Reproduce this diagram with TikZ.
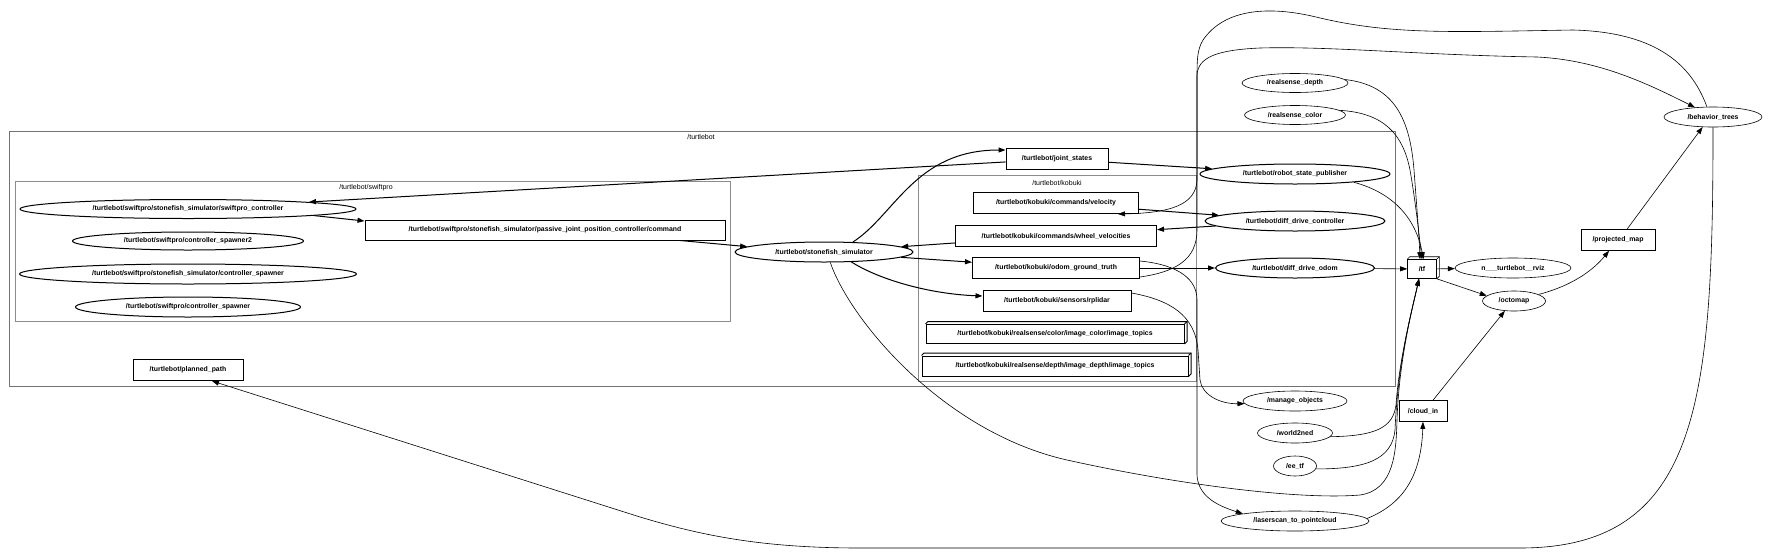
\documentclass[tikz,border=0pt]{standalone}
\usepackage{fontspec}
\setmainfont{Liberation Sans}
\usetikzlibrary{shapes.geometric,arrows.meta,calc}
\newcommand{\threedback}[2]{%
  \draw[line width=#2] (#1.north west) -- ++(2.5pt,2.5pt) -- ([shift={(2.5pt,2.5pt)}]#1.north east) -- ([shift={(2.5pt,2.5pt)}]#1.south east) -- (#1.south east);
  \draw[line width=#2] (#1.north east) -- ++(2.5pt,2.5pt);}
\begin{document}
\begin{tikzpicture}[x=1pt,y=-1pt,
  every node/.style={inner sep=0pt, font=\fontsize{7}{8}\selectfont},
  tb/.style={draw, rectangle, line width=1pt, font=\fontsize{6.9}{8}\selectfont\bfseries},
  te/.style={draw, ellipse, line width=1pt, font=\fontsize{6.9}{8}\selectfont\bfseries},
  ob/.style={draw, rectangle, line width=0.6pt, font=\fontsize{6.9}{8}\selectfont\bfseries},
  oe/.style={draw, ellipse, line width=0.6pt, font=\fontsize{6.9}{8}\selectfont\bfseries},
  cluout/.style={draw=black!55, line width=0.9pt},
  cluin/.style={draw=black!45, line width=1pt},
  clab/.style={font=\fontsize{7}{8}\selectfont},
  thk/.style={line width=1pt, -{Triangle[length=7pt,width=5pt]}},
  thn/.style={line width=0.6pt, -{Triangle[length=7pt,width=5pt]}},
]
\useasboundingbox (0,0) rectangle (1774,555);
\fill[white] (0,0) rectangle (1774,555);

% clusters
\draw[cluout] (9,131) rectangle (1395,386);
\node[clab] (ltb) at (701,137) {/turtlebot};
\draw[cluin] (15,181) rectangle (730,321);
\node[clab] (lsw) at (366,188) {/turtlebot/swiftpro};
\draw[cluin] (918,175) rectangle (1196,381);
\node[clab] (lkb) at (1057,183) {/turtlebot/kobuki};

% turtlebot nodes
\node[te, minimum width=336pt, minimum height=19pt] (swc) at (188,209) {/turtlebot/swiftpro/stonefish\_simulator/swiftpro\_controller};
\node[te, minimum width=231pt, minimum height=18pt] (sp2) at (188,241) {/turtlebot/swiftpro/controller\_spawner2};
\node[te, minimum width=337pt, minimum height=20pt] (scs) at (188,274) {/turtlebot/swiftpro/stonefish\_simulator/controller\_spawner};
\node[te, minimum width=225pt, minimum height=20pt] (cs) at (188,307) {/turtlebot/swiftpro/controller\_spawner};
\node[tb, minimum width=360pt, minimum height=20pt] (pjc) at (545,230) {/turtlebot/swiftpro/stonefish\_simulator/passive\_joint\_position\_controller/command};
\node[te, minimum width=178pt, minimum height=20pt] (sim) at (824,252) {/turtlebot/stonefish\_simulator};
\node[tb, minimum width=102pt, minimum height=21pt] (js) at (1057,159) {/turtlebot/joint\_states};
\node[tb, minimum width=165pt, minimum height=21pt] (vel) at (1056,203) {/turtlebot/kobuki/commands/velocity};
\node[tb, minimum width=201pt, minimum height=21pt] (wv) at (1056,236) {/turtlebot/kobuki/commands/wheel\_velocities};
\node[tb, minimum width=167pt, minimum height=21pt] (ogt) at (1056,268) {/turtlebot/kobuki/odom\_ground\_truth};
\node[tb, minimum width=148pt, minimum height=21pt] (rp) at (1057,301) {/turtlebot/kobuki/sensors/rplidar};
\node[tb, minimum width=258pt, minimum height=19pt] (col) at (1055,334) {/turtlebot/kobuki/realsense/color/image\_color/image\_topics};
\node[tb, minimum width=266pt, minimum height=20pt] (dep) at (1055,366) {/turtlebot/kobuki/realsense/depth/image\_depth/image\_topics};
\threedback{col}{1pt}
\threedback{dep}{1pt}
\node[te, minimum width=190pt, minimum height=20pt] (rsp) at (1295,174) {/turtlebot/robot\_state\_publisher};
\node[te, minimum width=180pt, minimum height=20pt] (ddc) at (1295,221) {/turtlebot/diff\_drive\_controller};
\node[te, minimum width=159pt, minimum height=20pt] (ddo) at (1295,268) {/turtlebot/diff\_drive\_odom};
\node[tb, minimum width=110pt, minimum height=21pt] (pp) at (188,370) {/turtlebot/planned\_path};

% outer nodes
\node[oe, minimum width=106pt, minimum height=19pt] (rsd) at (1295,83) {/realsense\_depth};
\node[oe, minimum width=101pt, minimum height=19pt] (rsc) at (1295,115) {/realsense\_color};
\node[oe, minimum width=98pt, minimum height=20pt] (beh) at (1713,117) {/behavior\_trees};
\node[ob, minimum width=29pt, minimum height=19pt] (tf) at (1422,269) {/tf};
\threedback{tf}{0.6pt}
\node[oe, minimum width=116pt, minimum height=20pt] (rviz) at (1513,268) {n\_\_\_turtlebot\_\_rviz};
\node[oe, minimum width=63pt, minimum height=20pt] (octo) at (1514,301) {/octomap};
\node[ob, minimum width=74pt, minimum height=21pt] (pm) at (1618,240) {/projected\_map};
\node[oe, minimum width=104pt, minimum height=20pt] (mo) at (1295,401) {/manage\_objects};
\node[oe, minimum width=75pt, minimum height=20pt] (w2n) at (1295,433) {/world2ned};
\node[oe, minimum width=43pt, minimum height=20pt] (ee) at (1295,466) {/ee\_tf};
\node[ob, minimum width=48pt, minimum height=21pt] (ci) at (1423,411) {/cloud\_in};
\node[oe, minimum width=148pt, minimum height=20pt] (lsp) at (1295,521) {/laserscan\_to\_pointcloud};

% thick edges
\draw[thk] (js) -- (swc);
\draw[thk] (swc.-3) -- ([yshift=-1.5pt]pjc.north west);
\draw[thk] ([xshift=135pt]pjc.south) -- (sim.176);
\draw[thk] (sim.19) .. controls (895,215) and (915,150) .. ([yshift=-2pt]js.north west);
\draw[thk] (js) -- (rsp);
\draw[thk] (wv) -- (sim);
\draw[thk] (sim) -- (ogt);
\draw[thk] (sim.-20) .. controls (880,280) and (930,294) .. ([yshift=5pt]rp.west);
\draw[thk] (vel) -- (ddc);
\draw[thk] (ddc) -- (wv);
\draw[thk] (ogt) -- (ddo);

% thin edges
\draw[thn] (beh.121) .. controls (1690,60) and (1650,32) .. (1573,30) .. controls (1450,32) and (1390,35) .. (1316,17) .. controls (1270,6) and (1225,8) .. (1203,40) .. controls (1197,50) and (1197,60) .. (1197,80) -- (1197,180) .. controls (1196,205) and (1170,213) .. ([xshift=-21pt]vel.south east);
\draw[thn] ([yshift=2pt]ogt.south east) .. controls (1175,272) and (1197,260) .. (1197,230) -- (1197,75) .. controls (1198,58) and (1215,50) .. (1260,48) .. controls (1330,46) and (1420,55) .. (1537,57) .. controls (1600,60) and (1650,85) .. (beh.152);
\draw[thn] (rsd.4) .. controls (1395,85) and (1410,120) .. (1414,170) .. controls (1417,210) and (1419,235) .. ([xshift=-2pt]tf.north);
\draw[thn] (rsc.6) .. controls (1385,113) and (1403,135) .. (1410,170) .. controls (1416,205) and (1419,235) .. (tf.north);
\draw[thn] (rsp.-8) .. controls (1390,192) and (1415,215) .. ([xshift=1.5pt]tf.north);
\draw[thn] (ddo) -- (tf);
\draw[thn] (tf) -- (rviz);
\draw[thn] (tf.south east) -- (octo.169);
\draw[thn] (octo.15) .. controls (1575,285) and (1595,268) .. ([xshift=-9pt]pm.south);
\draw[thn] ([xshift=9pt]pm.north) -- (beh.224);
\draw[thn] (beh.south) .. controls (1713,400) and (1700,548) .. (1520,548) -- (860,548) .. controls (760,548) and (700,535) .. (640,517) -- ([xshift=24pt]pp.south);
\draw[thn] ([yshift=8pt]rp.east) .. controls (1170,300) and (1195,315) .. (1198,350) -- (1200,380) .. controls (1202,395) and (1220,404) .. (mo.183);
\draw[thn] ([yshift=7pt]ogt.east) .. controls (1180,265) and (1197,280) .. (1197,300) -- (1197,475) .. controls (1198,495) and (1215,505) .. (lsp.172);
\draw[thn] (w2n.-6) .. controls (1375,436) and (1393,428) .. (1396,405) .. controls (1399,360) and (1412,310) .. ([xshift=-3pt]tf.south);
\draw[thn] (ee.-8) .. controls (1365,469) and (1392,460) .. (1395,430) .. controls (1398,360) and (1412,310) .. ([xshift=-3pt]tf.south);
\draw[thn] (sim.-59) .. controls (850,320) and (943,432) .. (1067,460) .. controls (1180,485) and (1300,500) .. (1360,495) .. controls (1395,490) and (1396,450) .. (1397,420) .. controls (1399,360) and (1412,310) .. ([xshift=-3pt]tf.south);
\draw[thn] (lsp.2.5) .. controls (1400,505) and (1421,480) .. (ci.south);
\draw[thn] ([xshift=10pt]ci.north) -- (octo.227);
\end{tikzpicture}
\end{document}
